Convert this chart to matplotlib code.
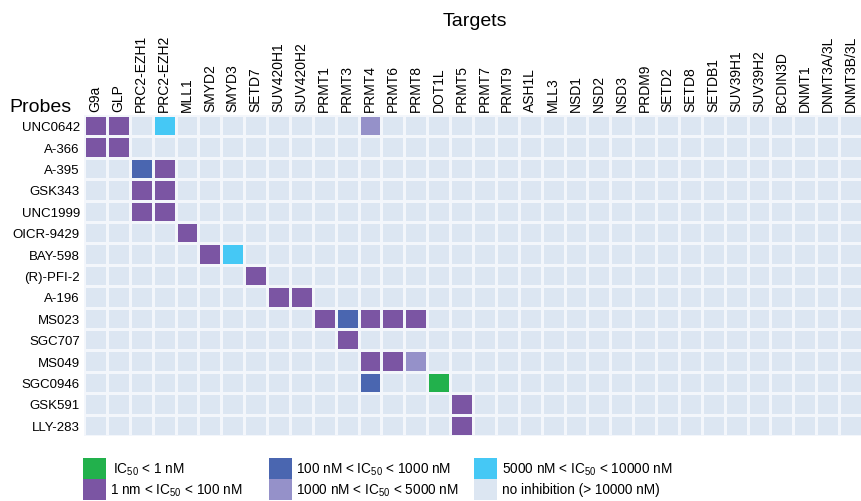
import numpy as np
import matplotlib
matplotlib.use('Agg')
from matplotlib import pyplot as plt
from matplotlib.colors import ListedColormap
from matplotlib.patches import Rectangle

plt.rcParams['font.family'] = ['Liberation Sans', 'DejaVu Sans']
plt.rcParams['mathtext.fontset'] = 'custom'
plt.rcParams['mathtext.rm'] = 'Liberation Sans'

targets = ['G9a', 'GLP', 'PRC2-EZH1', 'PRC2-EZH2', 'MLL1', 'SMYD2', 'SMYD3', 'SETD7',
           'SUV420H1', 'SUV420H2', 'PRMT1', 'PRMT3', 'PRMT4', 'PRMT6', 'PRMT8', 'DOT1L',
           'PRMT5', 'PRMT7', 'PRMT9', 'ASH1L', 'MLL3', 'NSD1', 'NSD2', 'NSD3', 'PRDM9',
           'SETD2', 'SETD8', 'SETDB1', 'SUV39H1', 'SUV39H2', 'BCDIN3D', 'DNMT1',
           'DNMT3A/3L', 'DNMT3B/3L']
probes = ['UNC0642', 'A-366', 'A-395', 'GSK343', 'UNC1999', 'OICR-9429', 'BAY-598',
          '(R)-PFI-2', 'A-196', 'MS023', 'SGC707', 'MS049', 'SGC0946', 'GSK591', 'LLY-283']

# 1: <1 nM, 2: 1-100 nM, 3: 100-1000 nM, 4: 1000-5000 nM, 5: 5000-10000 nM
hits = {
    'UNC0642': {'G9a': 2, 'GLP': 2, 'PRC2-EZH2': 5, 'PRMT4': 4},
    'A-366': {'G9a': 2, 'GLP': 2},
    'A-395': {'PRC2-EZH1': 3, 'PRC2-EZH2': 2},
    'GSK343': {'PRC2-EZH1': 2, 'PRC2-EZH2': 2},
    'UNC1999': {'PRC2-EZH1': 2, 'PRC2-EZH2': 2},
    'OICR-9429': {'MLL1': 2},
    'BAY-598': {'SMYD2': 2, 'SMYD3': 5},
    '(R)-PFI-2': {'SETD7': 2},
    'A-196': {'SUV420H1': 2, 'SUV420H2': 2},
    'MS023': {'PRMT1': 2, 'PRMT3': 3, 'PRMT4': 2, 'PRMT6': 2, 'PRMT8': 2},
    'SGC707': {'PRMT3': 2},
    'MS049': {'PRMT4': 2, 'PRMT6': 2, 'PRMT8': 4},
    'SGC0946': {'PRMT4': 3, 'DOT1L': 1},
    'GSK591': {'PRMT5': 2},
    'LLY-283': {'PRMT5': 2},
}

legend_labels = [r'IC$_{50}$ < 1 nM', r'1 nm < IC$_{50}$ < 100 nM',
                 r'100 nM < IC$_{50}$ < 1000 nM', r'1000 nM < IC$_{50}$ < 5000 nM',
                 r'5000 nM < IC$_{50}$ < 10000 nM', 'no inhibition (> 10000 nM)']
legend_codes = [1, 2, 3, 4, 5, 0]

colors = ['#dce6f2', '#22b14c', '#7b55a3', '#4a66b0', '#9591c9', '#45c8f5']
cmap = ListedColormap(colors)

data = np.zeros((len(probes), len(targets)))
for i, p in enumerate(probes):
    for t, v in hits[p].items():
        data[i, targets.index(t)] = v

fig = plt.figure(figsize=(8.62, 5.02), dpi=100)
W, H = 862, 502
ax = fig.add_axes([84 / W, 1 - 437 / H, (862 - 84) / W, (437 - 116) / H])
ax.pcolormesh(data, cmap=cmap, vmin=-0.5, vmax=5.5, edgecolors='#f3f6fb', linewidth=0.8)
ax.set_xlim(0, len(targets))
ax.set_ylim(len(probes), 0)
ax.xaxis.tick_top()
ax.set_xticks(np.arange(len(targets)) + 0.5)
ax.set_xticklabels(targets, rotation=90, fontsize=10)
ax.set_yticks(np.arange(len(probes)) + 0.5)
ax.set_yticklabels(probes, fontsize=9.5)
ax.tick_params(length=0, pad=3)
for s in ax.spines.values():
    s.set_visible(False)

fig.text(475 / W, 1 - 21 / H, 'Targets', fontsize=14, ha='center', va='center')
fig.text(9 / W, 1 - 112 / H, 'Probes', fontsize=14, ha='left', va='baseline')

# legend drawn in pixel coordinates
lax = fig.add_axes([0, 0, 1, 1])
lax.set_xlim(0, W)
lax.set_ylim(H, 0)
lax.axis('off')
col_x = [83, 269, 474]
text_x = [[113, 110], [296, 296], [502, 502]]
row_y = [459, 480]
for k, (lab, code) in enumerate(zip(legend_labels, legend_codes)):
    c, r = k // 2, k % 2
    lax.add_patch(Rectangle((col_x[c], row_y[r]), 23, 21, color=colors[code], lw=0))
    lax.text(text_x[c][r], row_y[r] + 10.5, lab, fontsize=9.8, va='center', ha='left')

fig.savefig('out.png', dpi=100)
